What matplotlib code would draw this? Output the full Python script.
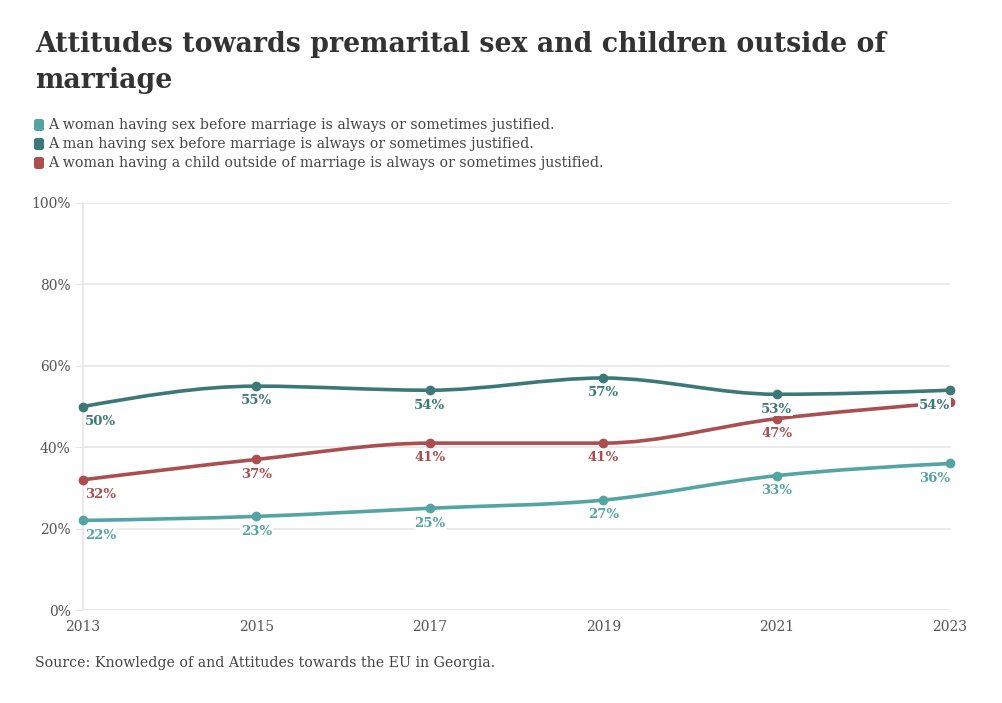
import matplotlib
matplotlib.use('Agg')
import matplotlib.pyplot as plt
import numpy as np
from matplotlib.path import Path
from matplotlib.patches import PathPatch, FancyBboxPatch

years = [2013, 2015, 2017, 2019, 2021, 2023]
woman_sex = [22, 23, 25, 27, 33, 36]
man_sex = [50, 55, 54, 57, 53, 54]
woman_child = [32, 37, 41, 41, 47, 51]
series_names = [
    "A woman having sex before marriage is always or sometimes justified.",
    "A man having sex before marriage is always or sometimes justified.",
    "A woman having a child outside of marriage is always or sometimes justified.",
]
colors = ['#54a4a4', '#3c7878', '#a94f50']
hidden_labels = {2: [5]}  # red 2023 label is covered in the original

plt.rcParams['font.family'] = ['DejaVu Serif']


def monotone_path(xs, ys):
    # d3 curveMonotoneX as cubic bezier segments
    xs = np.asarray(xs, float)
    ys = np.asarray(ys, float)
    n = len(xs)
    h = np.diff(xs)
    s = np.diff(ys) / h
    t = np.zeros(n)
    for i in range(1, n - 1):
        p = (s[i - 1] * h[i] + s[i] * h[i - 1]) / (h[i - 1] + h[i])
        t[i] = (np.sign(s[i - 1]) + np.sign(s[i])) * min(abs(s[i - 1]), abs(s[i]), 0.5 * abs(p))
    t[0] = (3 * s[0] - t[1]) / 2
    t[-1] = (3 * s[-1] - t[-2]) / 2
    verts = [(xs[0], ys[0])]
    codes = [Path.MOVETO]
    for i in range(n - 1):
        dx = h[i] / 3
        verts += [(xs[i] + dx, ys[i] + dx * t[i]),
                  (xs[i + 1] - dx, ys[i + 1] - dx * t[i + 1]),
                  (xs[i + 1], ys[i + 1])]
        codes += [Path.CURVE4] * 3
    return Path(verts, codes)


fig = plt.figure(figsize=(10.02, 7.03), dpi=100)
ax = fig.add_axes([83 / 1002, 1 - 610 / 703, (950 - 83) / 1002, (610 - 203) / 703])

ax.set_xlim(2013, 2023)
ax.set_ylim(0, 100)
ax.set_yticks([0, 20, 40, 60, 80, 100])
ax.set_yticklabels([f"{v}%" for v in [0, 20, 40, 60, 80, 100]])
ax.set_xticks(years)
ax.grid(axis='y', color='#e6e6e6', linewidth=1.2)
for sp in ['top', 'right', 'bottom']:
    ax.spines[sp].set_visible(False)
ax.spines['left'].set_color('#e6e6e6')
ax.spines['left'].set_linewidth(1.2)
ax.tick_params(axis='y', length=6, color='#e6e6e6', labelsize=10, labelcolor='#555555', pad=3)
ax.tick_params(axis='x', length=0, labelsize=10, labelcolor='#555555', pad=7)
for lbl in ax.get_yticklabels():
    lbl.set_verticalalignment('center_baseline')

all_series = [woman_sex, man_sex, woman_child]
for k, (vals, col) in enumerate(zip(all_series, colors)):
    ax.add_patch(PathPatch(monotone_path(years, vals), facecolor='none', edgecolor=col,
                           linewidth=2.6, clip_on=False, zorder=3, capstyle='round'))
    ax.plot(years, vals, 'o', color=col, markersize=6, clip_on=False, zorder=4)

for k, (vals, col) in enumerate(zip(all_series, colors)):
    for i, (x, v) in enumerate(zip(years, vals)):
        if i in hidden_labels.get(k, []):
            continue
        ha = 'left' if i == 0 else ('right' if i == len(years) - 1 else 'center')
        dx = 1.5 if i == 0 else 0
        ax.annotate(f"{v}%", (x, v), xytext=(dx, -6), textcoords='offset points',
                    ha=ha, va='top', fontsize=9.5, fontweight='bold', color=col,
                    zorder=6, annotation_clip=False,
                    bbox=dict(facecolor='white', edgecolor='none', pad=0.5))

fig.text(35 / 1002, 1 - 45 / 703, "Attitudes towards premarital sex and children outside of",
         fontsize=19.3, fontweight='bold', color='#333333', va='center', ha='left')
fig.text(35 / 1002, 1 - 80 / 703, "marriage",
         fontsize=19.3, fontweight='bold', color='#333333', va='center', ha='left')

for j, (name, col) in enumerate(zip(series_names, colors)):
    yc = 125 + j * 19
    fig.patches.append(FancyBboxPatch((34 / 1002, 1 - (yc + 6) / 703), 10 / 1002, 12 / 703,
                                      boxstyle='round,pad=0,rounding_size=0.003',
                                      transform=fig.transFigure, facecolor=col, edgecolor='none'))
    fig.text(48 / 1002, 1 - yc / 703, name, fontsize=10.2, color='#444444', va='center', ha='left')

fig.text(35 / 1002, 1 - 663 / 703, "Source: Knowledge of and Attitudes towards the EU in Georgia.",
         fontsize=10.2, color='#444444', va='center', ha='left')

fig.savefig('out.png', dpi=100)
